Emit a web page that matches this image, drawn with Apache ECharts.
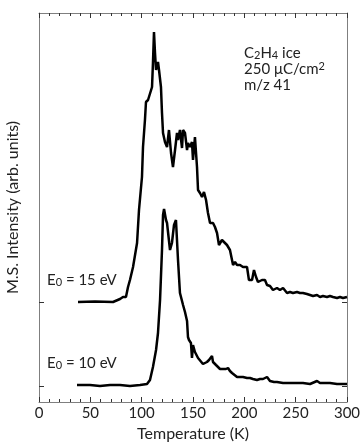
<!DOCTYPE html>
<html><head><meta charset="utf-8">
<script src="https://cdn.jsdelivr.net/npm/echarts@6/dist/echarts.min.js"></script>
<style>html,body{margin:0;padding:0;background:#fff}#c{width:360px;height:443px}</style>
</head><body><div id="c"></div>
<script>
// Temperature (K) samples and intensities (arb. units) relative to each curve's baseline
const temp15 = [38.0,54.5,72.1,74.0,78.9,81.8,84.7,86.7,88.6,91.6,95.5,97.4,100.3,101.3,103.2,104.2,106.2,108.1,110.1,111.0,112.0,113.0,114.0,114.9,115.9,116.9,118.8,119.8,120.8,122.7,124.7,126.6,128.6,130.5,132.5,134.4,135.4,137.3,139.3,140.3,142.2,144.2,145.1,147.1,149.0,150.0,151.9,152.9,153.9,154.9,156.8,158.8,160.7,162.7,164.6,166.6,169.5,171.4,173.4,175.3,178.2,179.2,183.1,186.0,189.0,190.9,192.9,195.8,198.7,202.6,204.5,207.5,209.4,211.4,213.3,217.2,220.1,222.1,225.0,227.9,231.8,234.7,237.7,241.6,244.5,247.4,251.3,254.2,257.1,261.0,264.0,266.9,270.8,273.7,276.6,280.5,283.4,286.4,290.3,293.2,296.1,300.0];
const int15 = [0,0.5,0,2,3,5,5,15,22,35,59,92,125,155,182,200,202,203,215,239,270,249,232,230,240,232,215,189,169,160,155,172,149,135,152,169,162,172,154,172,169,152,159,155,160,142,165,165,135,112,109,105,110,102,89,79,79,75,69,57,62,64,57,52,37,40,37,37,35,35,22,22,32,25,20,22,22,17,16,12,14,12,14,9,10,9,10,9,9,8,7,6,7,5,6,5,6,5,4,5,4,5];
const temp10 = [37.0,49.7,59.4,69.2,78.9,88.6,98.4,105.2,108.1,111.0,114.0,115.9,117.9,119.8,120.8,121.8,123.7,124.7,125.6,127.6,129.5,131.5,133.4,135.4,137.3,140.3,142.2,144.2,145.1,146.1,148.0,149.0,150.0,151.9,154.9,156.8,159.7,163.6,165.6,168.5,169.5,172.4,174.3,176.3,179.2,182.1,184.1,186.0,188.0,192.9,195.8,198.7,202.6,205.5,208.4,212.3,215.3,218.2,220.1,222.1,225.0,228.9,231.8,237.7,244.5,251.3,257.1,264.0,270.8,273.7,278.6,283.4,290.3,296.1,300.0];
const int10 = [1,1,0,1,1,0,1,2,6,19,36,53,86,136,171,177,166,163,164,136,143,161,166,126,93,81,74,65,49,46,43,28,41,34,28,28,22,24,26,30,24,21,19,17,17,17,18,15,13,9,9,9,8,8,7,6,7,7,6,9,5,4,4,3,3,3,3,2,5,3,3,3,2,2,2];
const offset15 = 84;          // vertical offset of the 15 eV trace
const yMin = -16, yMax = 373; // arbitrary intensity range
const xTicks = [0,50,100,150,200,250,300];
const baselines = [0, offset15];

const s15 = temp15.map((t,i)=>[t, int15[i] + offset15]);
const s10 = temp10.map((t,i)=>[t, int10[i]]);

const chart = echarts.init(document.getElementById('c'), null, {renderer:'canvas'});
const FONT = 'Lato, "Open Sans", sans-serif';
const axisCol = '#7f7f7f';
const xCommon = {
  type:'value', min:0, max:300, interval:50,
  axisLine:{show:true, onZero:false, lineStyle:{color:axisCol, width:1}},
  axisTick:{show:true, inside:true, length:5, lineStyle:{color:'#333'}},
  minorTick:{show:true, splitNumber:5, length:3, lineStyle:{color:'#333'}},
  splitLine:{show:false}
};
const yCommon = {
  type:'value', min:yMin, max:yMax,
  axisLine:{show:true, onZero:false, lineStyle:{color:axisCol, width:1}},
  axisTick:{show:true, inside:true, length:5, customValues: baselines, lineStyle:{color:'#333'}},
  axisLabel:{show:false},
  splitLine:{show:false}
};
const sub = {fontSize:11, fontFamily:FONT, fill:'#222', verticalAlign:'bottom', lineHeight:16, padding:[6,0,0,0]};
const sup = {fontSize:11, fontFamily:FONT, fill:'#222', verticalAlign:'top', lineHeight:16, padding:[0,0,6,0]};
chart.setOption({
  animation:false,
  backgroundColor:'#fff',
  grid:{left:39, right:13, top:13, bottom:41, containLabel:false, outerBoundsMode:'none'},
  xAxis:[
    Object.assign({}, xCommon, {
      position:'bottom',
      name:'Temperature (K)', nameLocation:'middle', nameGap:22,
      nameTextStyle:{fontFamily:FONT, fontSize:16, color:'#222'},
      axisLabel:{show:true, fontFamily:FONT, fontSize:15, color:'#222', margin:4,
        customValues: xTicks}
    }),
    Object.assign({}, xCommon, {position:'top', axisLabel:{show:false}})
  ],
  yAxis:[
    Object.assign({}, yCommon, {
      position:'left',
      name:'M.S. Intensity (arb. units)', nameLocation:'middle', nameGap:18,
      nameTextStyle:{fontFamily:FONT, fontSize:16, color:'#222'}
    }),
    Object.assign({}, yCommon, {position:'right'})
  ],
  series:[
    {type:'line', data:s15, xAxisIndex:0, yAxisIndex:0, showSymbol:false, symbol:'none',
     lineStyle:{color:'#000', width:2.5}},
    {type:'line', data:s10, xAxisIndex:0, yAxisIndex:0, showSymbol:false, symbol:'none',
     lineStyle:{color:'#000', width:2.5}}
  ],
  graphic:[
    {type:'text', left:244, top:44, style:{
      text:'C{sub|2}H{sub|4} ice\n250 μC/cm{sup|2}\nm/z 41',
      font:'15px ' + FONT, fill:'#222', lineHeight:16,
      rich:{sub:sub, sup:sup}
    }},
    {type:'text', left:47, top:271, style:{
      text:'E{sub|0} = 15 eV', font:'15px ' + FONT, fill:'#222', lineHeight:16,
      rich:{sub:sub}
    }},
    {type:'text', left:47, top:354, style:{
      text:'E{sub|0} = 10 eV', font:'15px ' + FONT, fill:'#222', lineHeight:16,
      rich:{sub:sub}
    }}
  ]
});
</script></body></html>
